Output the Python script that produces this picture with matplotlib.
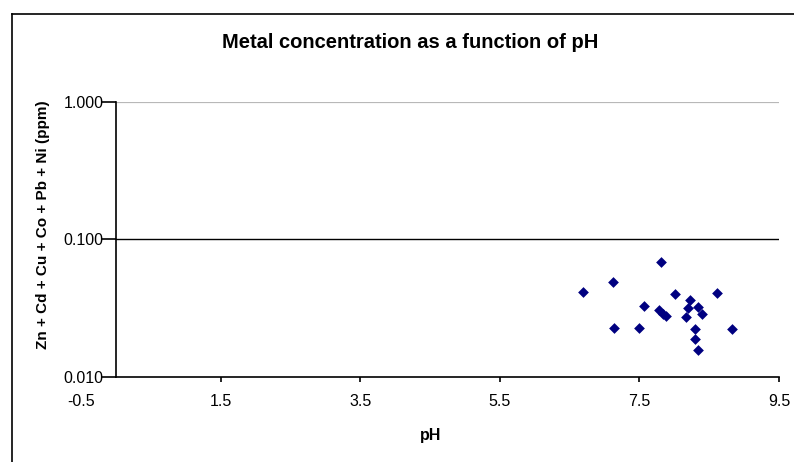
import matplotlib
matplotlib.use("Agg")
import matplotlib.pyplot as plt
from matplotlib.lines import Line2D

plt.rcParams['font.family'] = ['Liberation Sans', 'DejaVu Sans']

# pH vs summed metal concentration (ppm)
ph = [6.69, 7.12, 7.81, 7.14, 7.50, 7.57, 8.01, 7.78, 7.83, 7.88,
      8.16, 8.23, 8.20, 8.34, 8.39, 8.61, 8.30, 8.30, 8.34, 8.83]
metals = [0.0411, 0.0489, 0.0683, 0.0225, 0.0225, 0.0325, 0.0399, 0.0304, 0.0287, 0.0276,
          0.0270, 0.0361, 0.0314, 0.0321, 0.0284, 0.0408, 0.0221, 0.0188, 0.0157, 0.0221]

xticks = [-0.5, 1.5, 3.5, 5.5, 7.5, 9.5]
yticks = [0.01, 0.1, 1.0]
ytick_labels = ['0.010', '0.100', '1.000']

fig = plt.figure(figsize=(7.94, 4.62), dpi=100)
ax = fig.add_axes([0.1026, 0.1846, 0.8785, 0.5952])

ax.scatter(ph, metals, marker='D', s=30, color='#000080', linewidths=0, zorder=3)

ax.set_yscale('log')
ax.set_xlim(-0.5, 9.5)
ax.set_ylim(0.01, 1.0)

# axis lines: y axis crosses at pH 0
ax.spines['left'].set_position(('data', 0))
ax.spines['left'].set_bounds(0.01, 1.0)
ax.spines['bottom'].set_bounds(0, 9.5)
ax.spines['right'].set_visible(False)
ax.spines['top'].set_visible(False)
for s in ['left', 'bottom']:
    ax.spines[s].set_linewidth(1.2)
    ax.spines[s].set_color('black')

# major gridline and top border of the plot area
ax.axhline(0.1, xmin=0.05, xmax=1.0, color='black', lw=1.0, zorder=1)
ax.axhline(1.0, xmin=0.05, xmax=1.0, color='#b8b8b8', lw=1.6, zorder=1)

ax.set_xticks(xticks)
ax.set_xticklabels([str(v) for v in xticks])
ax.set_yticks(yticks)
ax.set_yticklabels(ytick_labels)
ax.yaxis.set_minor_locator(matplotlib.ticker.NullLocator())
ax.tick_params(axis='x', direction='out', length=3.5, width=1.2, labelsize=11.5, pad=9)
ax.tick_params(axis='y', direction='out', length=10, width=1.2, labelsize=11.5, pad=-1)
ax.xaxis.get_major_ticks()[0].tick1line.set_visible(False)

ax.set_xlabel('pH', fontsize=11.5, fontweight='bold')
ax.xaxis.set_label_coords(0.5, -0.212)
ax.xaxis.label.set_va('center')
ax.set_ylabel('Zn + Cd + Cu + Co + Pb + Ni (ppm)', fontsize=11, fontweight='bold')
ax.yaxis.set_label_coords(-0.0552, 0.552)
ax.yaxis.label.set_va('center')

ax.text(0.471, 1.217, 'Metal concentration as a function of pH', transform=ax.transAxes,
        ha='center', va='center', fontsize=14.5, fontweight='bold')

# chart area border (top and left edges)
fig.add_artist(Line2D([12 / 794, 1.0], [1 - 14 / 462, 1 - 14 / 462], color='black', lw=1.2))
fig.add_artist(Line2D([12 / 794, 12 / 794], [0.0, 1 - 14 / 462], color='black', lw=1.2))

fig.savefig('out.png', dpi=100)
